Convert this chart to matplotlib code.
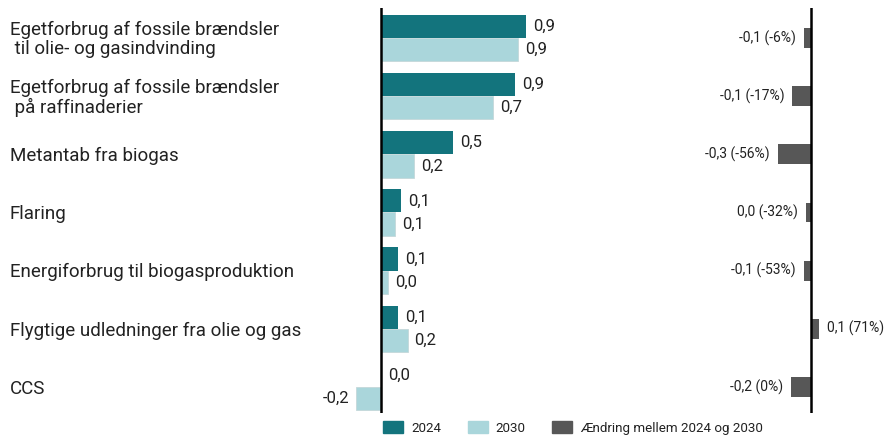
import numpy as np
import matplotlib.pyplot as plt
from matplotlib.patches import Patch

plt.rcParams['font.family'] = ['Roboto', 'DejaVu Sans']

# =========================================================
# DATA
# =========================================================

categories = [
    "Egetforbrug af fossile brændsler\n til olie- og gasindvinding",
    "Egetforbrug af fossile brændsler\n på raffinaderier",
    "Metantab fra biogas",
    "Flaring",
    "Energiforbrug til biogasproduktion",
    "Flygtige udledninger fra olie og gas",
    "CCS",
]
values_2024 = [0.93, 0.86, 0.46, 0.13, 0.11, 0.11, 0.0]
values_2030 = [0.88, 0.72, 0.21, 0.09, 0.045, 0.17, -0.16]
change = [-0.055, -0.145, -0.255, -0.04, -0.055, 0.065, -0.155]
change_pct = [-6, -17, -56, -32, -53, 71, 0]
legend_labels = ["2024", "2030", "Ændring mellem 2024 og 2030"]

c_2024 = "#13747d"
c_2030 = "#aad6db"
c_change = "#575757"
txt = "#222222"


def fmt(v):
    s = f"{abs(v):.1f}".replace(".", ",")
    if round(v, 1) < 0:
        s = "-" + s
    return s


# =========================================================
# FIGURE
# =========================================================

W, H = 887, 436
fig = plt.figure(figsize=(W / 100, H / 100), dpi=100)

y_top, y_bot = 8, 413
ax = fig.add_axes([330 / W, 1 - y_bot / H, 290 / W, (y_bot - y_top) / H])
ax2 = fig.add_axes([620 / W, 1 - y_bot / H, 250 / W, (y_bot - y_top) / H])

n = len(categories)
y = np.arange(n)
h = 0.40

ax.barh(y - h / 2, values_2024, height=h, color=c_2024)
ax.barh(y + h / 2, values_2030, height=h, color=c_2030, edgecolor="#c4d8da", linewidth=0.6)

for i in range(n):
    for off, v in [(-h / 2, values_2024[i]), (h / 2, values_2030[i])]:
        if v < 0:
            ax.text(v - 0.045, i + off, fmt(v), ha="right", va="center", fontsize=12, color=txt)
        else:
            ax.text(v + 0.045, i + off, fmt(v), ha="left", va="center", fontsize=12, color=txt)

ax.axvline(0, color="black", lw=1.8)
ax.set_xlim(-51 / 156, 239 / 156)
ax.set_ylim(6.447, -0.515)
ax.axis("off")

# category labels
for i, lab in enumerate(categories):
    ax.annotate(lab, xy=(10 / W, i + 0.03), xycoords=("figure fraction", "data"),
                ha="left", va="center", fontsize=13.5, color=txt, linespacing=1.1)

# change panel
ax2.barh(y, change, height=0.34, color=c_change)
for i in range(n):
    lab = f"{fmt(change[i])} ({change_pct[i]}%)"
    if change[i] < 0:
        ax2.text(change[i] - 0.06, i, lab, ha="right", va="center", fontsize=10, color=txt)
    else:
        ax2.text(change[i] + 0.06, i, lab, ha="left", va="center", fontsize=10, color=txt)
ax2.axvline(0, color="black", lw=1.8)
ax2.set_xlim(-191 / 130, 59 / 130)
ax2.set_ylim(6.447, -0.515)
ax2.axis("off")

handles = [Patch(color=c_2024), Patch(color=c_2030), Patch(color=c_change)]
fig.legend(handles, legend_labels, loc="center", ncol=3, frameon=False,
           bbox_to_anchor=(573 / W, 1 - 428 / H), fontsize=9.6,
           handlelength=1.5, handleheight=0.95, handletextpad=0.6,
           columnspacing=2.0, labelcolor=txt)

fig.savefig("out.png", dpi=100)
